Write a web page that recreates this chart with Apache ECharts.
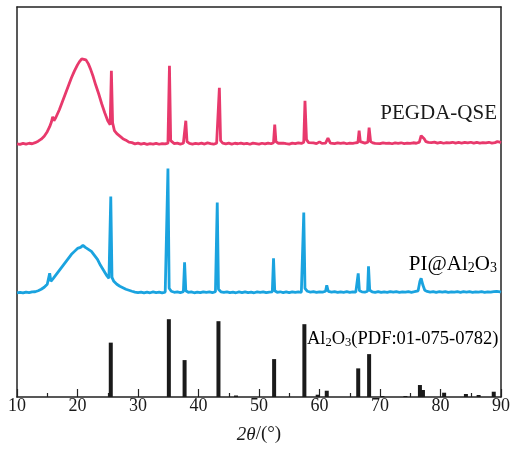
<!DOCTYPE html>
<html>
<head>
<meta charset="utf-8">
<style>
    html, body { margin: 0; padding: 0; background: #fff; }
    #chart { width: 513px; height: 449px; }
</style>
<script src="https://cdn.jsdelivr.net/npm/echarts@6/dist/echarts.min.js"></script>
</head>
<body>
<div id="chart"></div>
<script>
    // 2θ 刻度
    var xTicks = [10, 20, 30, 40, 50, 60, 70, 80, 90];

    // PEGDA-QSE 谱线 [2θ, 相对强度]
    var pegdaData = [
        [10,0.8],[10.5,0.2],[11,1.2],[11.5,0.5],[12,1.4],[12.5,0.9],[13,2],[13.5,3.5],[14,5.5],[14.5,8.5],
        [15,13],[15.4,18],[15.7,23],[15.9,28],[16.1,24],[16.4,27],[17,35],[17.5,43],[18,51],[18.5,59],
        [19,67],[19.5,74],[20,80],[20.3,83],[20.7,86],[21,87],[21.4,85],[21.8,81],[22.2,75],[22.6,68],[23,60],
        [23.5,51],[24,41],[24.5,32],[25,24],[25.4,20],[25.6,74],[25.8,22],[26.1,14],[26.5,11],[27,8.5],
        [27.5,6],[28,4.5],[28.5,2.5],[29,2],[29.5,0.8],[30,1.5],[30.5,0.5],[31,1.2],[31.5,0.3],[32,1],
        [32.5,0.6],[33,1.3],[33.5,0.4],[34,1.1],[34.5,0.7],[34.95,1.5],[35.2,79],[35.4,4],[35.7,2],[36,1],
        [36.5,1.5],[37,0.6],[37.5,1.4],[37.75,2],[37.9,24],[38.1,3],[38.5,1.2],[39,0.5],[39.5,1.3],[40,0.8],
        [40.5,1.5],[41,0.6],[41.5,1.8],[42,1],[42.5,0.4],[43,1.5],[43.25,2],[43.45,57],[43.65,4],[44,1.5],
        [44.5,0.8],[45,1.6],[45.5,0.6],[46,1.4],[46.5,0.9],[47,1.6],[47.5,0.7],[48,1.2],[48.5,0.4],[49,1.5],
        [49.5,1],[50,0.5],[50.5,1.4],[51,0.8],[51.5,1.6],[52,0.9],[52.4,2],[52.6,20],[52.8,3],[53.2,1.4],
        [53.5,0.7],[54,1.6],[54.5,1],[55,0.6],[55.5,1.5],[56,1.1],[56.5,1.8],[57,1.2],[57.4,2.5],[57.6,44],
        [57.85,5],[58.2,2],[58.5,1.2],[59,1.8],[59.5,1],[60,2.8],[60.4,1.2],[61,1.6],[61.4,6.5],[61.8,1.5],
        [62,2],[62.5,1],[63,1.8],[63.5,1.2],[64,1.7],[64.5,0.9],[65,1.6],[65.5,1.2],[66,1.9],[66.35,2],
        [66.55,14],[66.75,3],[67,2],[67.5,1.5],[68,2.5],[68.2,17],[68.45,3],[68.8,1.8],[69.2,1.2],[69.5,1.7],
        [70,1],[70.5,1.8],[71,1.2],[71.5,1.6],[72,0.9],[72.5,1.7],[73,1.3],[73.5,1.9],[74,1.1],[74.5,1.6],
        [75,1.3],[75.5,1.9],[76,1.4],[76.5,2.5],[76.8,9],[77,10],[77.3,6],[77.6,3],[78,2.2],[78.5,2],
        [79,2.5],[79.5,1.5],[80,2.3],[80.5,1.4],[81,2],[81.5,1.8],[82,2.4],[82.5,1.5],[83,2.2],[83.5,1.6],
        [84,2.3],[84.5,1.7],[85,2.4],[85.5,1.5],[86,2.2],[86.5,1.6],[87,2.1],[87.5,1.8],[88,2.4],[88.5,1.6],
        [89,2],[89.4,3],[89.6,4],[89.8,2.5],[90,2]
    ];

    // PI@Al2O3 谱线 [2θ, 相对强度]
    var piData = [
        [10,0.5],[10.5,1],[11,0.3],[11.5,1.2],[12,0.6],[12.5,1.3],[13,1.5],[13.5,2.5],[14,4],[14.5,6],
        [15,9],[15.25,11],[15.4,20],[15.6,12],[16,15],[16.5,19],[17,23],[17.5,27],[18,31],[18.5,35],
        [19,39],[19.5,42],[20,45],[20.5,46],[20.9,48],[21.3,46],[21.8,44],[22.3,42],[22.8,38],[23.3,34],
        [23.8,28],[24.3,23],[24.8,18],[25.2,15],[25.35,14],[25.5,97],[25.7,16],[26,12],[26.5,9],[27,7],
        [27.5,5.5],[28,4],[28.5,3],[29,2],[29.5,1.2],[30,0.6],[30.5,1.2],[31,0.4],[31.5,1.1],[32,0.5],
        [32.5,1.3],[33,0.7],[33.5,1.2],[34,0.5],[34.5,1.2],[34.8,1.5],[34.95,125],[35.15,5],[35.5,2],[36,1],
        [36.5,1.3],[37,0.6],[37.5,1.5],[37.7,31],[37.9,2.5],[38.3,1],[38.8,1.4],[39.3,0.5],[39.8,1.2],[40.3,0.6],
        [40.8,1.4],[41.3,0.8],[41.8,1.3],[42.3,0.6],[42.8,1.5],[42.95,2],[43.1,91],[43.3,4],[43.7,1.5],[44.2,0.8],
        [44.7,1.4],[45.2,0.6],[45.7,1.2],[46.2,0.5],[46.7,1.3],[47.2,0.7],[47.7,1.4],[48.2,0.6],[48.7,1.2],[49.2,0.5],
        [49.7,1.3],[50.2,0.8],[50.7,1.4],[51.2,0.6],[51.7,1.2],[52.2,1.5],[52.4,35],[52.6,2.5],[53,1],[53.5,1.5],
        [54,0.7],[54.5,1.3],[55,0.6],[55.5,1.4],[56,0.8],[56.5,1.3],[57,1],[57.25,2],[57.4,81],[57.6,5],
        [58,2],[58.5,1.2],[59,1.6],[59.5,0.8],[60,1.5],[60.5,1.1],[61,2],[61.2,8],[61.45,2],[62,1.2],
        [62.5,1.6],[63,0.8],[63.5,1.5],[64,1],[64.5,1.6],[65,0.9],[65.5,1.4],[66,1.2],[66.25,2],[66.4,20],
        [66.6,2.5],[67,1.5],[67.5,1.2],[67.95,2],[68.1,27],[68.3,3],[68.7,1.5],[69.2,1],[69.7,1.6],[70.2,0.8],
        [70.7,1.5],[71.2,1],[71.7,1.7],[72.2,1.1],[72.7,1.6],[73.2,0.9],[73.7,1.5],[74.2,1.1],[74.7,1.7],[75.2,1],
        [75.7,1.6],[76.3,2.5],[76.6,12],[76.8,15],[77.1,8],[77.4,3],[77.8,1.8],[78.3,1.2],[78.8,1.7],[79.3,1],
        [79.8,1.6],[80.3,1.1],[80.8,1.7],[81.3,0.9],[81.8,1.5],[82.3,1.1],[82.8,1.6],[83.3,0.9],[83.8,1.6],[84.3,1.2],
        [84.8,1.7],[85.3,1],[85.8,1.5],[86.3,1.1],[86.8,1.6],[87.3,0.9],[87.8,1.5],[88.3,1.1],[88.8,1.6],[89.3,2],
        [89.6,3],[89.85,1.5],[90,1.2]
    ];

    // Al2O3 标准卡片 PDF:01-075-0782 [2θ, 强度]
    var pdfData = [
        [25.5,54.5],[35.1,78],[37.7,37],[43.3,76],[46.2,1.5],[52.5,38],[57.5,73],[59.7,2.3],[61.2,6.3],
        [66.4,28.7],[68.2,43],[70.4,1],[74.2,1],[76.6,12],[77.1,7],[80.6,4.3],[84.2,3],[86.3,2],[88.8,5.3]
    ];

    // 堆叠偏移
    var pegdaOffset = 253;
    var piOffset = 104;

    function shift(arr, off) {
        return arr.map(function (p) { return [p[0], p[1] + off]; });
    }

    var serif = 'Liberation Serif';
    var subRich = {
        m: { fontFamily: serif, fontSize: 21, lineHeight: 21, color: '#1a1a1a' },
        s: { fontFamily: serif, fontSize: 14, lineHeight: 10, verticalAlign: 'bottom', color: '#1a1a1a' }
    };
    var pdfRich = {
        m: { fontFamily: serif, fontSize: 18.5, lineHeight: 19, color: '#1a1a1a' },
        s: { fontFamily: serif, fontSize: 12.5, lineHeight: 9, verticalAlign: 'bottom', color: '#1a1a1a' }
    };
    var frameLine = { show: true, onZero: false, lineStyle: { color: '#222', width: 1.5 } };

    var option = {
        animation: false,
        backgroundColor: '#fff',
        grid: { left: 17, right: 11, top: 7, bottom: 51 },
        xAxis: [{
            type: 'value',
            min: 10, max: 90, interval: 10,
            axisLine: frameLine,
            axisTick: { inside: true, length: 8, lineStyle: { color: '#222', width: 1.2 } },
            minorTick: { show: true, splitNumber: 2, length: 4, lineStyle: { color: '#222', width: 1.2 } },
            splitLine: { show: false },
            axisLabel: {
                margin: 0, fontFamily: serif, fontSize: 18, color: '#1a1a1a',
                formatter: function (v) { return xTicks.indexOf(v) >= 0 ? String(v) : ''; }
            },
            name: '{i|2θ}{n|/(°)}',
            nameLocation: 'middle',
            nameGap: 28,
            nameTextStyle: {
                rich: {
                    i: { fontFamily: serif, fontSize: 19, fontStyle: 'italic', color: '#1a1a1a' },
                    n: { fontFamily: serif, fontSize: 19, color: '#1a1a1a' }
                }
            }
        }, {
            type: 'value', position: 'top',
            min: 10, max: 90,
            axisLine: frameLine,
            axisTick: { show: false }, axisLabel: { show: false }, splitLine: { show: false }
        }],
        yAxis: [{
            type: 'value', min: 0, max: 391,
            axisLine: frameLine,
            axisTick: { show: false }, axisLabel: { show: false }, splitLine: { show: false }
        }, {
            type: 'value', position: 'right', min: 0, max: 391,
            axisLine: frameLine,
            axisTick: { show: false }, axisLabel: { show: false }, splitLine: { show: false }
        }],
        series: [{
            name: 'PEGDA-QSE',
            type: 'line',
            data: shift(pegdaData, pegdaOffset),
            showSymbol: false,
            lineStyle: { color: '#e8396c', width: 2.8 },
            z: 3
        }, {
            name: 'PI@Al2O3',
            type: 'line',
            data: shift(piData, piOffset),
            showSymbol: false,
            lineStyle: { color: '#1aa3df', width: 2.8 },
            z: 3
        }, {
            name: 'PDF',
            type: 'bar',
            data: pdfData,
            barWidth: 4,
            itemStyle: { color: '#1a1a1a' },
            z: 2
        }],
        graphic: [{
            type: 'text', right: 16, top: 103,
            style: { text: 'PEGDA-QSE', fontFamily: serif, fontSize: 21, fill: '#1a1a1a' }
        }, {
            type: 'text', right: 16, top: 254,
            style: { text: '{m|PI@Al}{s|2}{m|O}{s|3}', rich: subRich }
        }, {
            type: 'text', left: 307, top: 330,
            style: { text: '{m|Al}{s|2}{m|O}{s|3}{m|(PDF:01-075-0782)}', rich: pdfRich }
        }]
    };

    echarts.init(document.getElementById('chart')).setOption(option);
</script>
</body>
</html>
